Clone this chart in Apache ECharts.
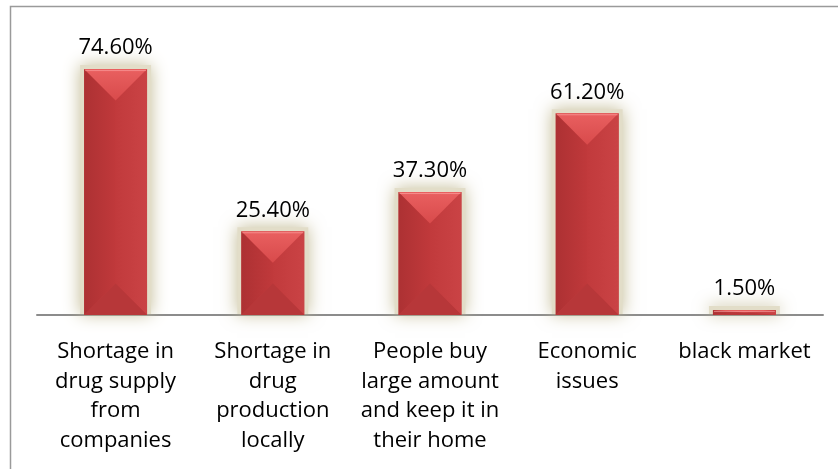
<!DOCTYPE html>
<html>
<head>
<meta charset="utf-8">
<script src="https://cdn.jsdelivr.net/npm/echarts@6/dist/echarts.min.js"></script>
<style>
  html, body { margin: 0; padding: 0; background: #fff; }
  #chart { width: 838px; height: 469px; }
</style>
</head>
<body>
<div id="chart"></div>
<script>
// Reasons behind the drug shortage (share of respondents, %)
const categories = [
  'Shortage in\ndrug supply\nfrom\ncompanies',
  'Shortage in\ndrug\nproduction\nlocally',
  'People buy\nlarge amount\nand keep it in\ntheir home',
  'Economic\nissues',
  'black market'
];
const values = [74.6, 25.4, 37.3, 61.2, 1.5];

const FONT = '"Open Sans", "Noto Sans", sans-serif';

// Bevelled bar: a body with a soft glow, split into four faces meeting at the centre line
function renderBevelBar(params, api) {
  const idx = api.value(0);
  const v = api.value(1);
  const topPt = api.coord([idx, v]);
  const basePt = api.coord([idx, 0]);
  const bw = api.size([1, 0])[0] * 0.4;
  const cx = topPt[0];
  const l = cx - bw / 2, r = cx + bw / 2;
  const yT = topPt[1], yB = basePt[1];
  const h = yB - yT;
  const d = Math.min(bw / 2, h / 2);

  const faces = [
    { // soft beige halo behind the bar
      type: 'rect',
      shape: { x: l - 4, y: yT - 4, width: bw + 8, height: h + 3 },
      style: {
        fill: 'rgba(226,221,200,1)',
        shadowBlur: 16,
        shadowColor: 'rgba(196,188,150,1)'
      }
    },
    { // body
      type: 'rect',
      shape: { x: l, y: yT, width: bw, height: h },
      style: { fill: '#c23a3c' }
    },
    { // left face
      type: 'polygon',
      shape: { points: [[l, yT], [cx, yT + d], [cx, yB - d], [l, yB]] },
      style: {
        fill: new echarts.graphic.LinearGradient(0, 0, 1, 0, [
          { offset: 0, color: '#ad3133' },
          { offset: 1, color: '#c0393b' }
        ])
      }
    },
    { // right face
      type: 'polygon',
      shape: { points: [[r, yT], [cx, yT + d], [cx, yB - d], [r, yB]] },
      style: {
        fill: new echarts.graphic.LinearGradient(0, 0, 1, 0, [
          { offset: 0, color: '#c13a3c' },
          { offset: 1, color: '#ca4345' }
        ])
      }
    },
    { // bottom face
      type: 'polygon',
      shape: { points: [[l, yB], [r, yB], [cx, yB - d]] },
      style: { fill: '#b73739' }
    },
    { // top face
      type: 'polygon',
      shape: { points: [[l, yT], [r, yT], [cx, yT + d]] },
      style: {
        fill: new echarts.graphic.LinearGradient(0, 0, 0, 1, [
          { offset: 0, color: '#e96060' },
          { offset: 1, color: '#d84a4b' }
        ])
      }
    },
    { // thin highlight along the top edge
      type: 'line',
      shape: { x1: l + 1, y1: yT + 1.5, x2: r - 1, y2: yT + 1.5 },
      style: { stroke: 'rgba(255,170,170,0.6)', lineWidth: 1 }
    },
    { // value label
      type: 'text',
      style: {
        x: cx, y: yT - 10,
        text: v.toFixed(2) + '%',
        align: 'center', verticalAlign: 'bottom',
        font: '22px ' + FONT,
        fill: '#000'
      }
    }
  ];
  return { type: 'group', children: faces };
}

const chart = echarts.init(document.getElementById('chart'), null, { renderer: 'canvas' });
chart.setOption({
  animation: false,
  backgroundColor: '#fff',
  grid: { left: 37, right: 15, top: 51.3, bottom: 154 },
  xAxis: {
    type: 'category',
    data: categories,
    axisTick: { show: false },
    axisLine: { lineStyle: { color: '#8c8c8c', width: 2 } },
    axisLabel: {
      interval: 0,
      margin: 22,
      color: '#000',
      fontFamily: FONT,
      fontSize: 22,
      lineHeight: 29.5,
      align: 'center'
    }
  },
  yAxis: {
    type: 'value',
    min: 0, max: 80,
    show: false,
    splitLine: { show: false }
  },
  graphic: [{
    type: 'polyline',
    shape: { points: [[10.5, 469], [10.5, 6.5], [838, 6.5]] },
    style: { stroke: '#9a9a9a', lineWidth: 1.5, fill: null },
    z: 10
  }],
  series: [{
    type: 'custom',
    renderItem: renderBevelBar,
    data: values.map((v, i) => [i, v]),
    encode: { x: 0, y: 1 },
    clip: false
  }]
});
</script>
</body>
</html>
